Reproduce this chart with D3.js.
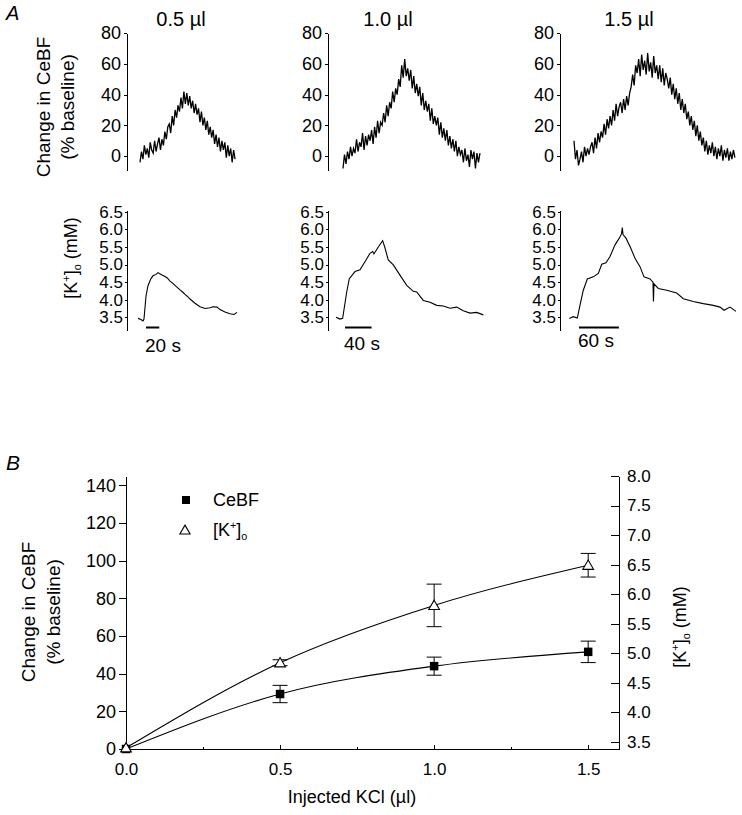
<!DOCTYPE html>
<html>
<head>
<meta charset="utf-8">
<script src="https://cdn.jsdelivr.net/npm/d3@7"></script>
<style>
  html, body { margin: 0; padding: 0; background: #fff; }
  svg { display: block; font-family: "Liberation Sans", Arial, Helvetica, sans-serif; }
  .axis path, .axis line { stroke: #000; stroke-width: 1; shape-rendering: crispEdges; }
  .axis text { fill: #000; font-family: "Liberation Sans", Arial, Helvetica, sans-serif; }
</style>
</head>
<body>
<script>
// ---------------- DATA ----------------
// Panel A: column titles and scale bars
const doseTitles = ["0.5 \u00b5l", "1.0 \u00b5l", "1.5 \u00b5l"];
const scaleBarLabels = ["20 s", "40 s", "60 s"];
const scaleBarTimes = [[12, 32], [13.5, 53.5], [15, 75]]; // seconds

// CeBF traces (% baseline), evenly sampled between start/end times (s)
const cebfTimeSpan = [[3, 146], [10.5, 216.5], [7.5, 249.5]];
const cebf05 = [-4, 3, -2, 7, 1, 5, -1, 9, 4, 2, 10, 3, 8, 12, 4, 11, 7, 16, 11, 19, 21, 15, 26, 20, 30, 25, 33, 29, 38, 31, 42, 34, 41, 33, 39, 31, 36, 28, 34, 27, 31, 22, 29, 20, 25, 17, 23, 14, 19, 12, 17, 8, 14, 6, 12, 3, 10, 4, 9, -1, 7, 0, 5, -4, 4, -2];
const cebf10 = [-8, 1, -5, 3, -2, 6, 0, 5, 2, 11, 3, 9, 6, 15, 4, 13, 7, 14, 10, 17, 8, 19, 12, 23, 15, 22, 20, 28, 22, 33, 26, 35, 31, 42, 35, 44, 40, 50, 45, 59, 51, 63, 52, 57, 49, 56, 44, 52, 41, 47, 39, 45, 33, 41, 30, 36, 29, 34, 23, 31, 21, 26, 20, 25, 14, 22, 12, 18, 10, 17, 7, 13, 5, 11, 3, 10, 0, 6, 1, 4, -4, 5, -3, 1, -7, 4, -2, 3, -8, 2, -4, 2];
const cebf15 = [10, -2, 4, -6, -2, 3, -4, 6, 0, 5, 1, 6, 9, 2, 12, 5, 15, 9, 16, 12, 21, 14, 24, 18, 26, 20, 30, 23, 34, 26, 32, 35, 28, 37, 30, 39, 33, 41, 45, 53, 46, 59, 54, 63, 52, 66, 56, 62, 53, 67, 55, 61, 51, 65, 54, 59, 50, 59, 48, 57, 46, 54, 50, 44, 51, 40, 47, 37, 44, 34, 41, 30, 37, 28, 34, 24, 29, 20, 26, 17, 23, 13, 20, 10, 16, 7, 12, 3, 10, 1, 7, 2, 9, 0, 6, -2, 5, 0, 7, -3, 4, -1, 5, -3, 3, -2, 4, -1];

// [K+]o traces: [time (s), mM]
const k05 = [[0, 3.47], [4.5, 3.44], [7.5, 3.40], [9, 3.45], [12, 4.1], [15, 4.4], [19.5, 4.6], [22.6, 4.68], [27.1, 4.72], [30.1, 4.77], [34.6, 4.72], [40.6, 4.66], [44, 4.62], [48.1, 4.53], [52, 4.47], [55.6, 4.41], [63.2, 4.28], [67, 4.22], [70.7, 4.15], [74, 4.1], [78.2, 4.02], [85.7, 3.9], [93.2, 3.8], [100.8, 3.75], [108.3, 3.77], [112.8, 3.8], [118.8, 3.79], [123.3, 3.72], [130.8, 3.65], [138.3, 3.6], [144.4, 3.58], [148.9, 3.64]];
const k10 = [[0, 3.5], [6, 3.45], [10, 3.47], [16.1, 4.22], [20, 4.6], [28.6, 4.8], [36.1, 4.85], [43.6, 5.08], [51.1, 5.32], [55.2, 5.37], [57.1, 5.3], [63.6, 5.5], [70.2, 5.68], [73.7, 5.47], [78.6, 5.13], [86.2, 4.99], [96.2, 4.7], [106.3, 4.41], [116.2, 4.24], [121.4, 4.22], [131.3, 3.98], [141.4, 3.93], [151.4, 3.84], [161.4, 3.82], [171.4, 3.76], [181.5, 3.79], [191.4, 3.69], [201.5, 3.62], [211.6, 3.64], [221.5, 3.57]];
const k15 = [[0.5, 3.47], [6.5, 3.52], [12.5, 3.48], [16.5, 3.84], [21.5, 4.27], [27.5, 4.59], [36.5, 4.65], [44.1, 4.75], [49.2, 5.01], [55.6, 5.05], [61.7, 5.23], [69.2, 5.56], [75.6, 5.75], [78.9, 5.87], [80.2, 6.05], [81.2, 5.85], [85.7, 5.75], [92.8, 5.47], [99.2, 5.18], [106.8, 4.94], [112.8, 4.65], [121.8, 4.59], [126.3, 4.5], [127, 3.95], [127.8, 4.45], [134.3, 4.32], [146.9, 4.27], [162, 4.19], [171.9, 4.03], [186.9, 3.95], [202, 3.89], [217, 3.84], [227.1, 3.79], [233.1, 3.7], [242.1, 3.79], [251.1, 3.67]];

const cebfTraces = [cebf05, cebf10, cebf15];
const kTraces = [k05, k10, k15];
const cebfTicksA = [0, 20, 40, 60, 80];
const kTicksA = [3.5, 4.0, 4.5, 5.0, 5.5, 6.0, 6.5];

// Panel B: dose–response
const injected = [0, 0.5, 1.0, 1.5];
const cebfMean = [0, 29.2, 44, 51.6];
const cebfErr = [0, 4.6, 4.8, 5.7];
const kMean = [3.4, 4.84, 5.81, 6.49];
const kErr = [0, 0.05, 0.36, 0.2];
const xTicksB = [0, 0.5, 1.0, 1.5];
const xMinorB = [0.25, 0.75, 1.25];
const leftTicksB = [0, 20, 40, 60, 80, 100, 120, 140];
const rightTicksB = [3.5, 4.0, 4.5, 5.0, 5.5, 6.0, 6.5, 7.0, 7.5, 8.0];

// ---------------- DRAW ----------------
const W = 742, H = 815;
const svg = d3.select("body").append("svg").attr("width", W).attr("height", H);
svg.append("rect").attr("width", W).attr("height", H).attr("fill", "#fff");

// Panel letters
svg.append("text").attr("x", 6).attr("y", 20).attr("font-size", 20).attr("font-style", "italic").text("A");
svg.append("text").attr("x", 6).attr("y", 470).attr("font-size", 21).attr("font-style", "italic").text("B");

// ---- Panel A ----
const axisXA = [127, 328, 560];
const traceX0 = [138, 336, 569];
const pxPerSec = 0.665;
const titleX = [181, 388, 629];

const yCe = d3.scaleLinear().domain([-9, 80]).range([170, 33]);
const yK = d3.scaleLinear().domain([3.14, 6.55]).range([330, 210]);

for (let c = 0; c < 3; c++) {
  const g = svg.append("g");
  const xT = d3.scaleLinear().domain([0, 260]).range([traceX0[c], traceX0[c] + 260 * pxPerSec]);

  g.append("text").attr("x", titleX[c]).attr("y", 26).attr("text-anchor", "middle")
    .attr("font-size", 20).text(doseTitles[c]);

  // CeBF axis
  const ax1 = g.append("g").attr("class", "axis").attr("transform", `translate(${axisXA[c]},0)`)
    .call(d3.axisLeft(yCe).tickValues(cebfTicksA).tickSize(3).tickPadding(3).tickSizeOuter(0));
  ax1.selectAll("text").attr("font-size", 18);

  // CeBF trace
  const vals = cebfTraces[c];
  const [t0, t1] = cebfTimeSpan[c];
  const tt = d3.scaleLinear().domain([0, vals.length - 1]).range([t0, t1]);
  g.append("path").datum(vals)
    .attr("fill", "none").attr("stroke", "#000").attr("stroke-width", 1.3)
    .attr("d", d3.line().x((d, i) => xT(tt(i))).y(d => yCe(d)));

  // K axis
  const ax2 = g.append("g").attr("class", "axis").attr("transform", `translate(${axisXA[c]},0)`)
    .call(d3.axisLeft(yK).tickValues(kTicksA).tickFormat(d3.format(".1f")).tickSize(2).tickPadding(2).tickSizeOuter(0));
  ax2.selectAll("text").attr("font-size", 17);

  // K trace
  g.append("path").datum(kTraces[c])
    .attr("fill", "none").attr("stroke", "#000").attr("stroke-width", 1.1)
    .attr("d", d3.line().x(d => xT(d[0])).y(d => yK(d[1])));

  // Scale bar
  const sb = scaleBarTimes[c];
  g.append("line").attr("x1", xT(sb[0])).attr("x2", xT(sb[1])).attr("y1", 327.5).attr("y2", 327.5)
    .attr("stroke", "#000").attr("stroke-width", 2);
  g.append("text").attr("x", xT(sb[0]) - 1).attr("y", [352, 350, 347][c]).attr("font-size", 19)
    .text(scaleBarLabels[c]);
}

// Panel A y labels
svg.append("text").attr("transform", "translate(50,107) rotate(-90)")
  .attr("text-anchor", "middle").attr("font-size", 19).text("Change in CeBF");
svg.append("text").attr("transform", "translate(74,107) rotate(-90)")
  .attr("text-anchor", "middle").attr("font-size", 19).text("(% baseline)");

function kLabel(sel, fs) {
  sel.append("tspan").text("[K");
  sel.append("tspan").attr("dy", -7).attr("font-size", fs * 0.6).text("+");
  sel.append("tspan").attr("dy", 7).text("]");
  sel.append("tspan").attr("dy", 4).attr("font-size", fs * 0.6).text("o");
}
const kA = svg.append("text").attr("transform", "translate(77,258) rotate(-90)")
  .attr("text-anchor", "middle").attr("font-size", 18);
kLabel(kA, 18);
kA.append("tspan").attr("dy", -4).text(" (mM)");

// ---- Panel B ----
const xB = d3.scaleLinear().domain([0, 1.6]).range([126, 619]);
const yL = d3.scaleLinear().domain([0, 145]).range([749, 476]);
const yR = d3.scaleLinear().domain([3.38, 8.0]).range([749, 476]);

const gB = svg.append("g");
const axL = gB.append("g").attr("class", "axis").attr("transform", "translate(126,0)")
  .call(d3.axisLeft(yL).tickValues(leftTicksB).tickSize(7).tickPadding(3).tickSizeOuter(0));
axL.selectAll("text").attr("font-size", 18);

const axR = gB.append("g").attr("class", "axis").attr("transform", "translate(619,0)")
  .call(d3.axisRight(yR).tickValues(rightTicksB).tickFormat(d3.format(".1f")).tickSize(-8).tickPadding(8).tickSizeOuter(0));
axR.selectAll("text").attr("font-size", 17);

const axB = gB.append("g").attr("class", "axis").attr("transform", "translate(0,749)")
  .call(d3.axisBottom(xB).tickValues(xTicksB).tickFormat(d3.format(".1f")).tickSize(-4).tickPadding(14).tickSizeOuter(0));
axB.selectAll("text").attr("font-size", 17);
gB.append("g").attr("class", "axis").attr("transform", "translate(0,749)")
  .call(d3.axisBottom(xB).tickValues(xMinorB).tickSize(-2).tickFormat("").tickSizeOuter(0))
  .select(".domain").remove();

// Fit curves
const cebfPts = injected.map((x, i) => [x, cebfMean[i]]);
const kPts = injected.map((x, i) => [x, kMean[i]]);
gB.append("path").datum(cebfPts).attr("fill", "none").attr("stroke", "#000").attr("stroke-width", 1.1)
  .attr("d", d3.line().curve(d3.curveMonotoneX).x(d => xB(d[0])).y(d => yL(d[1])));
gB.append("path").datum(kPts).attr("fill", "none").attr("stroke", "#000").attr("stroke-width", 1.1)
  .attr("d", d3.line().curve(d3.curveMonotoneX).x(d => xB(d[0])).y(d => yR(d[1])));

// Error bars
const cap = 7.5;
function errBars(means, errs, ys) {
  injected.forEach((x, i) => {
    if (errs[i] <= 0) return;
    const cx = xB(x), y1 = ys(means[i] - errs[i]), y2 = ys(means[i] + errs[i]);
    gB.append("line").attr("x1", cx).attr("x2", cx).attr("y1", y1).attr("y2", y2).attr("stroke", "#000");
    [y1, y2].forEach(yy => gB.append("line").attr("x1", cx - cap).attr("x2", cx + cap)
      .attr("y1", yy).attr("y2", yy).attr("stroke", "#000"));
  });
}
errBars(cebfMean, cebfErr, yL);
errBars(kMean, kErr, yR);

// Markers
const sq = d3.symbol().type(d3.symbolSquare).size(72);
const tri = d3.symbol().type(d3.symbolTriangle).size(50);
gB.selectAll(".sq").data(cebfPts).enter().append("path")
  .attr("transform", d => `translate(${xB(d[0])},${yL(d[1])})`).attr("d", sq).attr("fill", "#000");
gB.selectAll(".tri").data(kPts).enter().append("path")
  .attr("transform", d => `translate(${xB(d[0])},${yR(d[1]) + 1})`).attr("d", tri)
  .attr("fill", "#fff").attr("stroke", "#000").attr("stroke-width", 1.1);

// Legend
gB.append("path").attr("transform", "translate(186,500)").attr("d", d3.symbol().type(d3.symbolSquare).size(64)).attr("fill", "#000");
gB.append("text").attr("x", 213).attr("y", 506).attr("font-size", 18).text("CeBF");
gB.append("path").attr("transform", "translate(185,531)").attr("d", d3.symbol().type(d3.symbolTriangle).size(45))
  .attr("fill", "#fff").attr("stroke", "#000").attr("stroke-width", 1.1);
const kLeg = gB.append("text").attr("x", 213).attr("y", 536).attr("font-size", 18);
kLabel(kLeg, 18);

// Axis labels
svg.append("text").attr("transform", "translate(35,612) rotate(-90)").attr("text-anchor", "middle")
  .attr("font-size", 19).text("Change in CeBF");
svg.append("text").attr("transform", "translate(60,612) rotate(-90)").attr("text-anchor", "middle")
  .attr("font-size", 19).text("(% baseline)");
const kB = svg.append("text").attr("transform", "translate(686,627) rotate(-90)")
  .attr("text-anchor", "middle").attr("font-size", 18);
kLabel(kB, 18);
kB.append("tspan").attr("dy", -4).text(" (mM)");
svg.append("text").attr("x", 352).attr("y", 803).attr("text-anchor", "middle").attr("font-size", 18)
  .text("Injected KCl (\u00b5l)");
</script>
</body>
</html>
